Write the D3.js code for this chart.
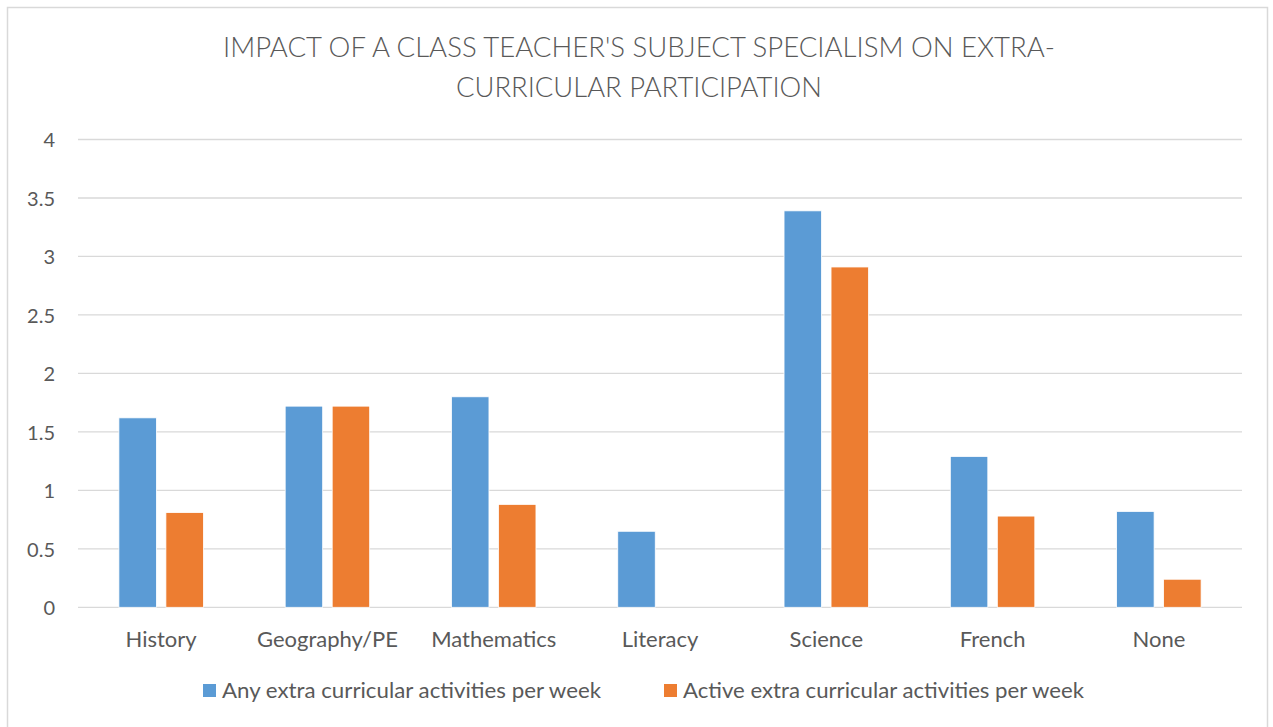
<!DOCTYPE html>
<html>
<head>
<meta charset="utf-8">
<script src="https://cdn.jsdelivr.net/npm/d3@7"></script>
<style>
  html, body { margin: 0; padding: 0; background: #fff; }
  svg { display: block; }
  text { font-family: Lato, "Open Sans", sans-serif; fill: #595959; }
</style>
</head>
<body>
<svg id="chart" width="1273" height="727"></svg>
<script>
const categories = ["History", "Geography/PE", "Mathematics", "Literacy", "Science", "French", "None"];
const seriesNames = ["Any extra curricular activities per week", "Active extra curricular activities per week"];
const anyValues = [1.62, 1.72, 1.80, 0.65, 3.39, 1.29, 0.82];
const activeValues = [0.81, 1.72, 0.88, 0, 2.91, 0.78, 0.24];
const yTicks = [0, 0.5, 1, 1.5, 2, 2.5, 3, 3.5, 4];
const colors = ["#5B9BD5", "#ED7D31"];
const titleLines = ["IMPACT OF A CLASS TEACHER'S SUBJECT SPECIALISM ON EXTRA-", "CURRICULAR PARTICIPATION"];

const svg = d3.select("#chart");

// chart border
svg.append("rect").attr("x", 7.5).attr("y", 7.5).attr("width", 1260).attr("height", 740)
  .attr("fill", "#fff").attr("stroke", "#d9d9d9").attr("stroke-width", 1.5);

const margin = {left: 78, right: 1242, top: 139.5, bottom: 607.3};
const x = d3.scaleBand().domain(categories).range([margin.left, margin.right]).paddingInner(0).paddingOuter(0);
const y = d3.scaleLinear().domain([0, 4]).range([margin.bottom, margin.top]);

// gridlines
svg.append("g").selectAll("line").data(yTicks).join("line")
  .attr("x1", margin.left).attr("x2", margin.right)
  .attr("y1", d => y(d)).attr("y2", d => y(d))
  .attr("stroke", "#d9d9d9").attr("stroke-width", 1.3);

// y axis labels
const yAxis = d3.axisLeft(y).tickValues(yTicks).tickSize(0).tickPadding(0).tickFormat(d3.format("~g"));
const yg = svg.append("g").attr("transform", "translate(55,0)").call(yAxis);
yg.select(".domain").remove();
yg.selectAll("text").style("font-size", "20px").style("font-family", "Lato, sans-serif")
  .attr("fill", "#595959").attr("dy", "0.36em");

// bars
const barW = 37.5, gap = 9.5;
const data = categories.map((c, i) => ({c, vals: [anyValues[i], activeValues[i]]}));
const groups = svg.append("g").selectAll("g").data(data).join("g")
  .attr("transform", d => `translate(${x(d.c) + x.bandwidth() / 2},0)`);
groups.selectAll("rect").data(d => d.vals.map((v, k) => ({v, k})).filter(e => e.v > 0)).join("rect")
  .attr("x", d => d.k === 0 ? -gap / 2 - barW : gap / 2)
  .attr("width", barW)
  .attr("y", d => y(d.v))
  .attr("height", d => y(0) - y(d.v))
  .attr("fill", d => colors[d.k])
  .attr("stroke", "#fff").attr("stroke-width", 0.8);

// x axis labels
const xAxis = d3.axisBottom(x).tickSize(0).tickPadding(0);
const xg = svg.append("g").attr("transform", "translate(0,0)").call(xAxis);
xg.select(".domain").remove();
xg.selectAll("text").style("font-size", "22px").style("font-family", "Lato, sans-serif")
  .attr("fill", "#595959").attr("y", 647).attr("dy", 0);

// title
const titleLen = [832, 366];
const titleG = svg.append("g");
titleG.selectAll("text").data(titleLines).join("text")
  .attr("x", 639)
  .attr("y", (d, i) => 57 + i * 40)
  .attr("text-anchor", "middle")
  .attr("textLength", (d, i) => titleLen[i])
  .attr("lengthAdjust", "spacingAndGlyphs")
  .style("font-size", "28px").style("font-weight", "300")
  .text(d => d);

// legend
const legX = [203, 664];
const legLen = [379, 401];
const leg = svg.append("g").selectAll("g").data(seriesNames).join("g")
  .attr("transform", (d, i) => `translate(${legX[i]},684)`);
leg.append("rect").attr("width", 13).attr("height", 13).attr("fill", (d, i) => colors[i]);
leg.append("text").attr("x", 19).attr("y", 14)
  .attr("textLength", (d, i) => legLen[i])
  .attr("lengthAdjust", "spacingAndGlyphs")
  .style("font-size", "21px").text(d => d);
</script>
</body>
</html>
